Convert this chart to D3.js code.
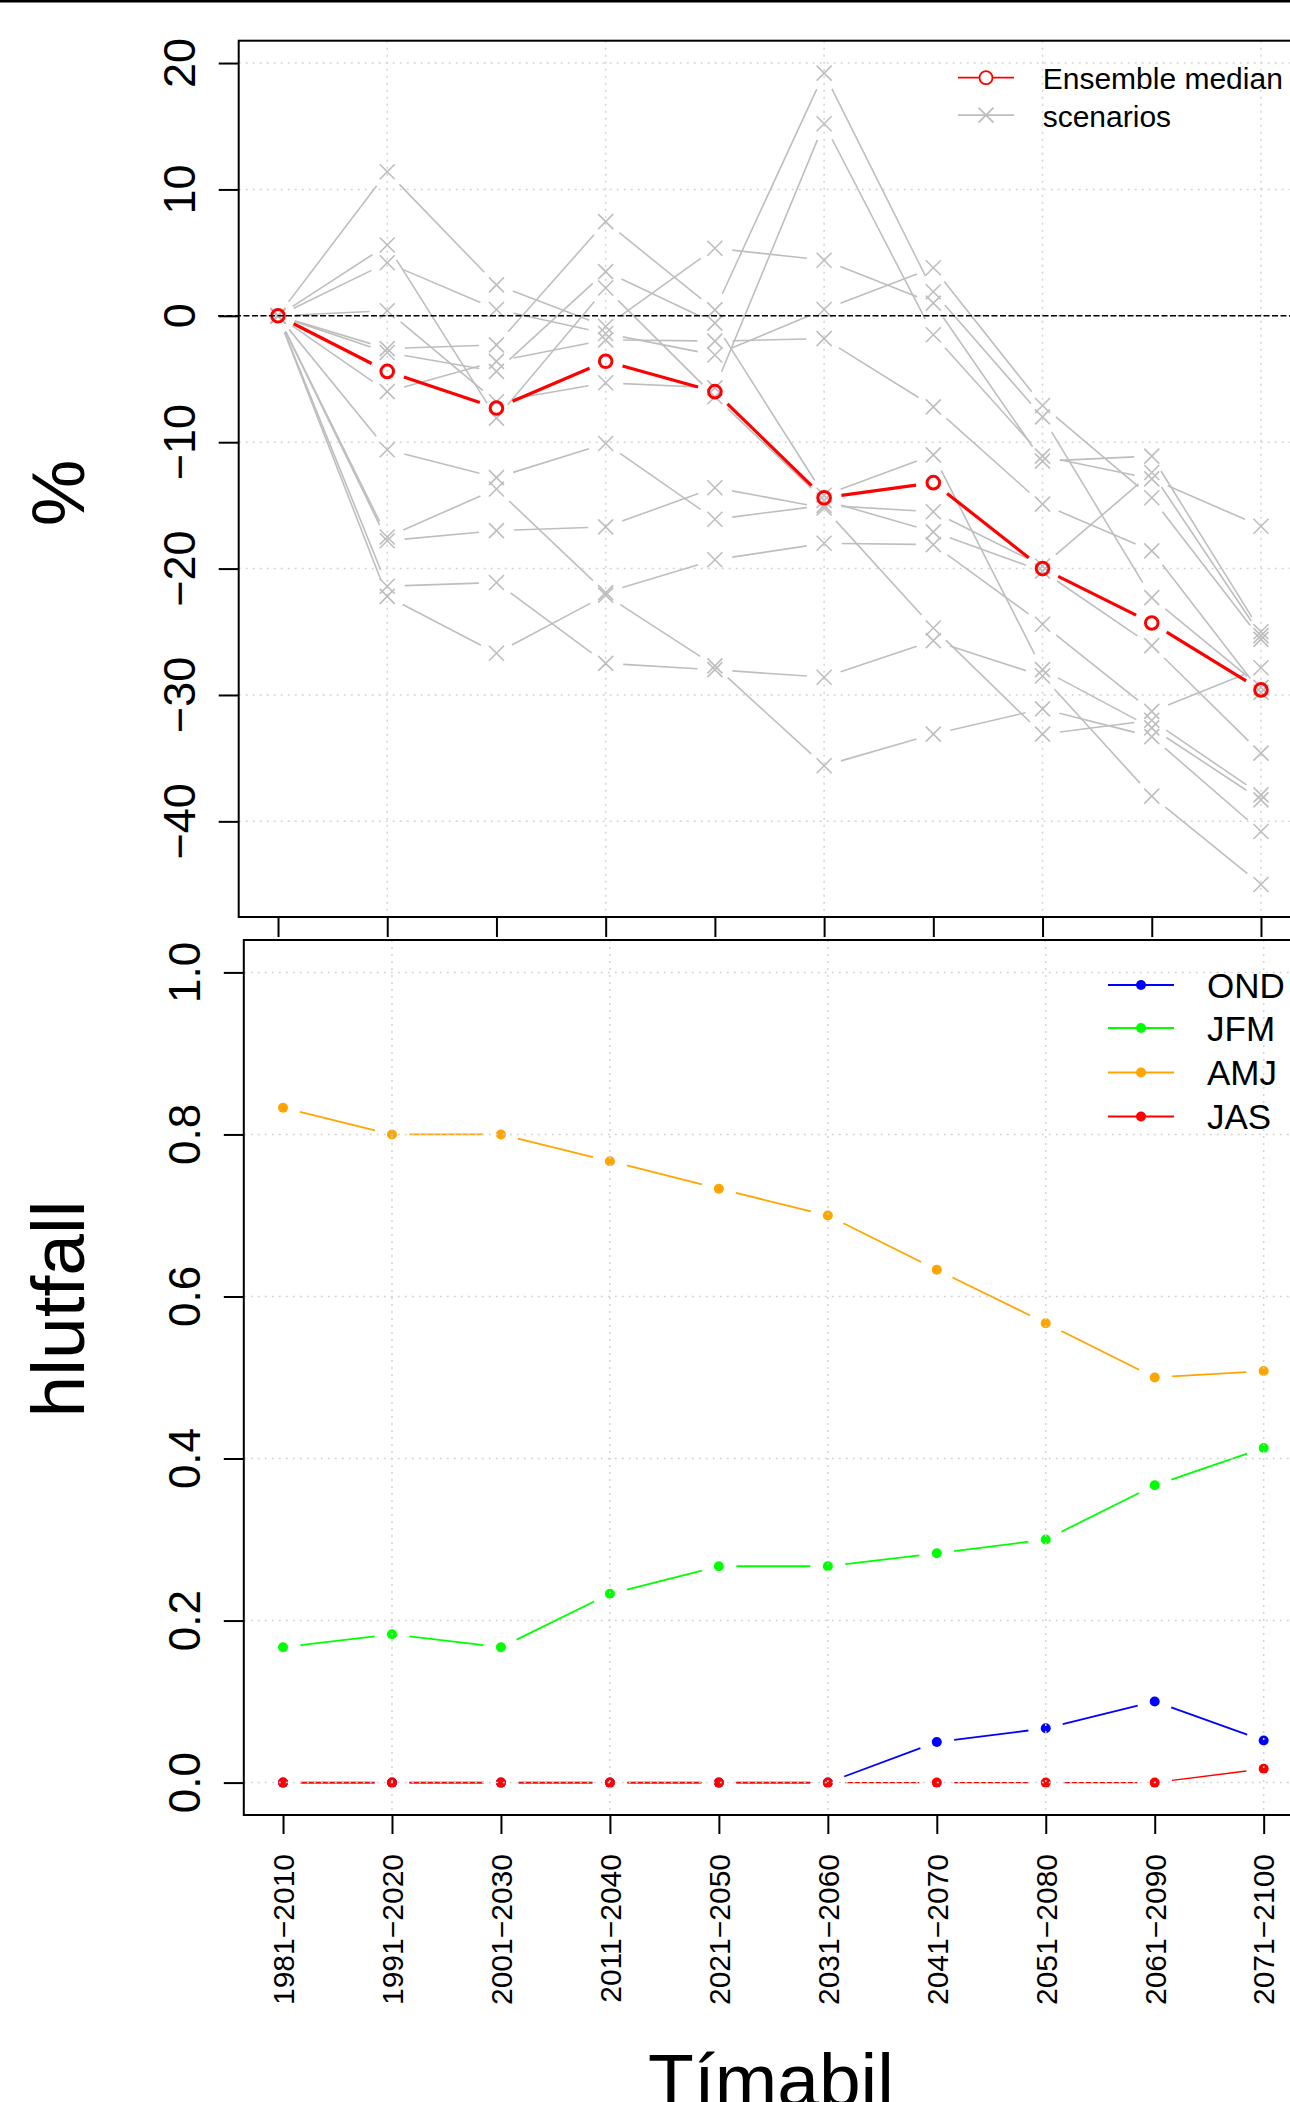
<!DOCTYPE html>
<html>
<head>
<meta charset="utf-8">
<script src="https://cdn.jsdelivr.net/npm/d3@7/dist/d3.min.js"></script>
<style>
  body { margin: 0; background: #fff; }
  svg { display: block; font-family: 'Liberation Sans', Arial, Helvetica, sans-serif; }
</style>
</head>
<body>
<div class="visualization"></div>
<script>
'use strict';

// periods on the shared x axis
var periods = ['1981−2010', '1991−2020', '2001−2030', '2011−2040', '2021−2050',
               '2031−2060', '2041−2070', '2051−2080', '2061−2090', '2071−2100'];

// top panel: change in % relative to 1981-2010
var medianPct = [0, -4.4, -7.3, -3.6, -6.0, -14.4, -13.2, -20.0, -24.3, -29.6];

var scenarioPct = [
  [0, 11.4, 2.45, -0.85, 5.35, 4.4, 1.0, -11.5, -11.1, -25.0],
  [0, 5.6, -8.1, 2.2, -6.4, -14.6, -17.1, -20.2, -26.1, -34.6],
  [0, 4.2, 0.5, -1.4, -3.1, 0.5, 3.8, -7.1, -14.4, -25.6],
  [0, 0.4, -6.8, -5.3, -5.7, 15.2, -1.5, -11.1, -12.9, -16.65],
  [0, -2.6, -2.3, 7.45, 0.47, 19.2, 1.9, -8.0, -22.3, -29.4],
  [0, -2.9, -4.4, 3.5, -0.58, -14.2, -11.0, -28.0, -32.6, -38.3],
  [0, -6.0, -3.6, -1.9, -2.0, -1.8, -7.2, -14.9, -18.6, -29.8],
  [0, -10.6, -12.8, -10.1, -16.1, -15.0, -15.5, -19.8, -12.4, -25.3],
  [0, -17.5, -13.7, -21.9, -19.3, -18.0, -18.1, -24.4, -31.3, -27.85],
  [0, -17.8, -17.0, -16.7, -13.6, -15.2, -24.7, -33.1, -32.0, -37.9],
  [0, -21.4, -21.1, -27.5, -28.0, -28.6, -25.7, -28.5, -38.0, -45.0],
  [0, -22.2, -26.7, -22.1, -27.7, -35.6, -33.1, -31.1, -33.3, -40.8]
];

// bottom panel: share (hlutfall) per season
var ondShare = [0, 0, 0, 0, 0, 0, 0.05, 0.067, 0.1, 0.052];
var jfmShare = [0.167, 0.183, 0.167, 0.233, 0.267, 0.267, 0.283, 0.3, 0.367, 0.413];
var amjShare = [0.833, 0.8, 0.8, 0.767, 0.733, 0.7, 0.633, 0.567, 0.5, 0.508];
var jasShare = [0, 0, 0, 0, 0, 0, 0, 0, 0, 0.017];

var seasonNames = ['OND', 'JFM', 'AMJ', 'JAS'];
var seasonColors = ['#0000ff', '#00ff00', '#ffa500', '#ff0000'];

var pctTicks = [-40, -30, -20, -10, 0, 10, 20];
var shareTicks = [0, 0.2, 0.4, 0.6, 0.8, 1.0];
var gridX = [2, 4, 6, 8, 10];

var W = 1290, H = 2102;
var GAP = 17.5; // type="b" gap round each point

var svg = d3.select('.visualization')
  .append('svg')
  .attr('width', W)
  .attr('height', H);

// thin frame line along the top edge
svg.append('rect').attr('x', 0).attr('y', 0).attr('width', W).attr('height', 2.5).attr('fill', '#000');

var idx = d3.range(1, periods.length + 1);
var xPad = (periods.length - 1) * 0.04;

// ---------- top panel ----------
var topBox = { left: 238.7, right: 1300.3, top: 40.7, bottom: 917 };

var allPct = d3.merge(scenarioPct.concat([medianPct]));
var pLo = d3.min(allPct), pHi = d3.max(allPct), pPad = (pHi - pLo) * 0.04;

var xTop = d3.scaleLinear().domain([1 - xPad, periods.length + xPad]).range([topBox.left, topBox.right]);
var yTop = d3.scaleLinear().domain([pLo - pPad, pHi + pPad]).range([topBox.bottom, topBox.top]);

// split a polyline into segments with gaps round the points
function gapSegments(pts) {
  var segs = [];
  for (var i = 0; i < pts.length - 1; i++) {
    var a = pts[i], b = pts[i + 1];
    var dx = b[0] - a[0], dy = b[1] - a[1], len = Math.sqrt(dx * dx + dy * dy);
    if (len <= 2 * GAP) continue;
    var ux = dx / len, uy = dy / len;
    segs.push([a[0] + ux * GAP, a[1] + uy * GAP, b[0] - ux * GAP, b[1] - uy * GAP]);
  }
  return segs;
}

function drawGrid(g, xs, ys, xTicks, yTicks, box) {
  g.selectAll('line.gx').data(xTicks).enter().append('line').attr('class', 'gx')
    .attr('x1', function(d) { return xs(d); }).attr('x2', function(d) { return xs(d); })
    .attr('y1', box.top).attr('y2', box.bottom);
  g.selectAll('line.gy').data(yTicks).enter().append('line').attr('class', 'gy')
    .attr('y1', function(d) { return ys(d); }).attr('y2', function(d) { return ys(d); })
    .attr('x1', box.left).attr('x2', box.right);
  g.selectAll('line')
    .attr('stroke', '#d3d3d3')
    .attr('stroke-width', 1.5)
    .attr('stroke-dasharray', '2,5');
}

svg.append('clipPath').attr('id', 'clipTop').append('rect')
  .attr('x', topBox.left).attr('y', topBox.top)
  .attr('width', topBox.right - topBox.left).attr('height', topBox.bottom - topBox.top);

var topPlot = svg.append('g').attr('clip-path', 'url(#clipTop)');
drawGrid(topPlot.append('g'), xTop, yTop, gridX, pctTicks, topBox);

var xMark = 'M-7.5,-7.5L7.5,7.5M-7.5,7.5L7.5,-7.5';

// scenarios in grey
scenarioPct.forEach(function(series) {
  var pts = series.map(function(v, i) { return [xTop(idx[i]), yTop(v)]; });
  var g = topPlot.append('g');
  g.selectAll('line').data(gapSegments(pts)).enter().append('line')
    .attr('x1', function(d) { return d[0]; }).attr('y1', function(d) { return d[1]; })
    .attr('x2', function(d) { return d[2]; }).attr('y2', function(d) { return d[3]; })
    .attr('stroke', '#bebebe').attr('stroke-width', 1.6);
  g.selectAll('path').data(pts).enter().append('path')
    .attr('d', xMark)
    .attr('transform', function(d) { return 'translate(' + d[0] + ',' + d[1] + ')'; })
    .attr('stroke', '#bebebe').attr('stroke-width', 1.6).attr('fill', 'none');
});

// ensemble median in red
var medPts = medianPct.map(function(v, i) { return [xTop(idx[i]), yTop(v)]; });
var medG = topPlot.append('g');
medG.selectAll('line').data(gapSegments(medPts)).enter().append('line')
  .attr('x1', function(d) { return d[0]; }).attr('y1', function(d) { return d[1]; })
  .attr('x2', function(d) { return d[2]; }).attr('y2', function(d) { return d[3]; })
  .attr('stroke', '#ff0000').attr('stroke-width', 3.2);
medG.selectAll('circle').data(medPts).enter().append('circle')
  .attr('cx', function(d) { return d[0]; }).attr('cy', function(d) { return d[1]; })
  .attr('r', 6.3).attr('fill', 'none').attr('stroke', '#ff0000').attr('stroke-width', 3);

// zero line, dashed
svg.append('line')
  .attr('x1', 218).attr('x2', W)
  .attr('y1', yTop(0)).attr('y2', yTop(0))
  .attr('stroke', '#000').attr('stroke-width', 1.6).attr('stroke-dasharray', '6,2.5');

// box + axes
svg.append('rect')
  .attr('x', topBox.left).attr('y', topBox.top)
  .attr('width', topBox.right - topBox.left).attr('height', topBox.bottom - topBox.top)
  .attr('fill', 'none').attr('stroke', '#000').attr('stroke-width', 2);

var axisTopY = svg.append('g').attr('transform', 'translate(' + topBox.left + ',0)')
  .call(d3.axisLeft(yTop).tickValues(pctTicks).tickSize(20).tickSizeOuter(0).tickFormat(''));
var axisTopX = svg.append('g').attr('transform', 'translate(0,' + topBox.bottom + ')')
  .call(d3.axisBottom(xTop).tickValues(idx).tickSize(20).tickSizeOuter(0).tickFormat(''));
[axisTopY, axisTopX].forEach(function(a) {
  a.select('.domain').remove();
  a.selectAll('line').attr('stroke', '#000').attr('stroke-width', 2);
});

svg.append('g').selectAll('text').data(pctTicks).enter().append('text')
  .attr('transform', function(d) { return 'translate(195,' + yTop(d) + ') rotate(-90)'; })
  .attr('text-anchor', 'middle')
  .attr('font-size', 45)
  .text(function(d) { return d < 0 ? '−' + Math.abs(d) : d; });

svg.append('text')
  .attr('transform', 'translate(84,493) rotate(-90)')
  .attr('text-anchor', 'middle')
  .attr('font-size', 75)
  .text('%');

// top legend
var legTop = svg.append('g');
var legRows = [
  { label: 'Ensemble median', color: '#ff0000', y: 77.7, mark: 'circle' },
  { label: 'scenarios', color: '#bebebe', y: 115.2, mark: 'x' }
];
legRows.forEach(function(r) {
  legTop.append('line').attr('x1', 958).attr('x2', 1014).attr('y1', r.y).attr('y2', r.y)
    .attr('stroke', r.color).attr('stroke-width', 1.8);
  if (r.mark === 'circle') {
    legTop.append('circle').attr('cx', 986).attr('cy', r.y).attr('r', 6.5)
      .attr('fill', '#fff').attr('stroke', r.color).attr('stroke-width', 1.8);
  } else {
    legTop.append('path').attr('d', xMark).attr('transform', 'translate(986,' + r.y + ')')
      .attr('stroke', r.color).attr('stroke-width', 1.8).attr('fill', 'none');
  }
  legTop.append('text').attr('x', 1042.7).attr('y', r.y + 11.6)
    .attr('font-size', 30).text(r.label);
});

// ---------- bottom panel ----------
var botBox = { left: 243.8, right: 1302.9, top: 940, bottom: 1815 };

var xBot = d3.scaleLinear().domain([1 - xPad, periods.length + xPad]).range([botBox.left, botBox.right]);
var yBot = d3.scaleLinear().domain([-0.04, 1.04]).range([botBox.bottom, botBox.top]);

svg.append('clipPath').attr('id', 'clipBot').append('rect')
  .attr('x', botBox.left).attr('y', botBox.top)
  .attr('width', botBox.right - botBox.left).attr('height', botBox.bottom - botBox.top);
var botPlot = svg.append('g').attr('clip-path', 'url(#clipBot)');

var seasonSeries = [ondShare, jfmShare, amjShare, jasShare];
seasonSeries.forEach(function(series, k) {
  var pts = series.map(function(v, i) { return [xBot(idx[i]), yBot(v)]; });
  var g = botPlot.append('g');
  g.selectAll('line').data(gapSegments(pts)).enter().append('line')
    .attr('x1', function(d) { return d[0]; }).attr('y1', function(d) { return d[1]; })
    .attr('x2', function(d) { return d[2]; }).attr('y2', function(d) { return d[3]; })
    .attr('stroke', seasonColors[k]).attr('stroke-width', k === 3 ? 1.4 : 1.8);
  g.selectAll('circle').data(pts).enter().append('circle')
    .attr('cx', function(d) { return d[0]; }).attr('cy', function(d) { return d[1]; })
    .attr('r', 5).attr('fill', seasonColors[k]);
});

// grid lies over the lines in this panel
drawGrid(botPlot.append('g'), xBot, yBot, gridX, shareTicks, botBox);

svg.append('rect')
  .attr('x', botBox.left).attr('y', botBox.top)
  .attr('width', botBox.right - botBox.left).attr('height', botBox.bottom - botBox.top)
  .attr('fill', 'none').attr('stroke', '#000').attr('stroke-width', 2);

var axisBotY = svg.append('g').attr('transform', 'translate(' + botBox.left + ',0)')
  .call(d3.axisLeft(yBot).tickValues(shareTicks).tickSize(20).tickSizeOuter(0).tickFormat(''));
var axisBotX = svg.append('g').attr('transform', 'translate(0,' + botBox.bottom + ')')
  .call(d3.axisBottom(xBot).tickValues(idx).tickSize(19).tickSizeOuter(0).tickFormat(''));
[axisBotY, axisBotX].forEach(function(a) {
  a.select('.domain').remove();
  a.selectAll('line').attr('stroke', '#000').attr('stroke-width', 2);
});

svg.append('g').selectAll('text').data(shareTicks).enter().append('text')
  .attr('transform', function(d) { return 'translate(200,' + yBot(d) + ') rotate(-90)'; })
  .attr('text-anchor', 'middle')
  .attr('font-size', 44)
  .text(function(d) { return d3.format('.1f')(d); });

svg.append('g').selectAll('text').data(periods).enter().append('text')
  .attr('transform', function(d, i) { return 'translate(' + (xBot(idx[i]) + 10.8) + ',1854) rotate(-90)'; })
  .attr('text-anchor', 'end')
  .attr('font-size', 30)
  .text(function(d) { return d; });

svg.append('text')
  .attr('transform', 'translate(84,1309) rotate(-90)')
  .attr('text-anchor', 'middle')
  .attr('font-size', 75)
  .text('hlutfall');

svg.append('text')
  .attr('x', 771).attr('y', 2106)
  .attr('text-anchor', 'middle')
  .attr('font-size', 75)
  .text('Tímabil');

// bottom legend
var legBot = svg.append('g');
var legBotY = [985, 1028, 1072.5, 1116.5];
seasonNames.forEach(function(name, k) {
  var y = legBotY[k];
  legBot.append('line').attr('x1', 1108).attr('x2', 1174).attr('y1', y).attr('y2', y)
    .attr('stroke', seasonColors[k]).attr('stroke-width', 1.8);
  legBot.append('circle').attr('cx', 1141).attr('cy', y).attr('r', 5).attr('fill', seasonColors[k]);
  legBot.append('text').attr('x', 1207).attr('y', y + 12.6).attr('font-size', 35).text(name);
});
</script>
</body>
</html>
